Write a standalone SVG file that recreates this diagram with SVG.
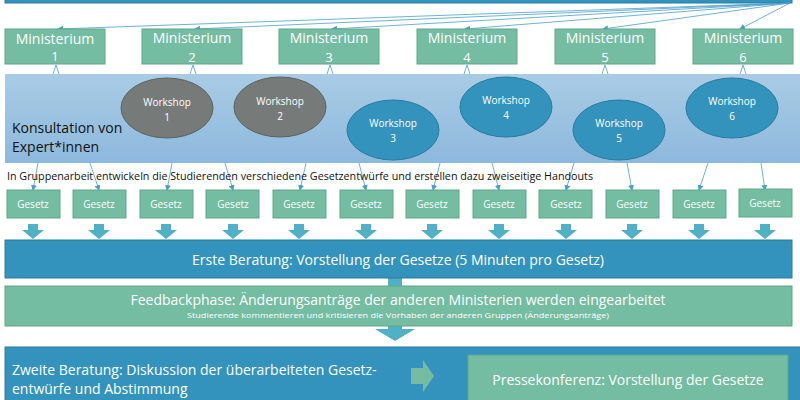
<svg xmlns="http://www.w3.org/2000/svg" width="800" height="400" viewBox="0 0 800 400">
<style>
text{font-family:"Open Sans","Liberation Sans",sans-serif}
.min{fill:#74bca2;stroke:#5ea78c;stroke-width:1}
.mt{fill:#fff;font-size:14px;text-anchor:middle}
.mn{fill:#fff;font-size:13px;text-anchor:middle}
.ws{fill:#fff;font-size:10px;text-anchor:middle}
.gr{fill:#767b79;stroke:#5d6160}
.bl{fill:#3393bd;stroke:#2a7a9e}
.ges{fill:#74bca2;stroke:#5ea78c}
.gt{fill:#fff;font-size:10px;text-anchor:middle}
.ln{stroke:#4a9fca;stroke-width:0.8;fill:none;marker-end:url(#a)}
.ba{fill:#4fb0c6}
</style>
<defs>
<marker id="a" markerWidth="6" markerHeight="6" refX="5" refY="3" orient="auto" markerUnits="userSpaceOnUse"><path d="M0,0L6,3L0,6z" fill="#4a9fca"/></marker>
<linearGradient id="g" x1="0" y1="0" x2="0" y2="1"><stop offset="0" stop-color="#a9cce5"/><stop offset="1" stop-color="#8db8dd"/></linearGradient>
</defs>
<rect id="top" x="5" y="-5" width="787" height="8" fill="#3393bd" stroke="#2a7a9e"/>
<rect id="band" x="5" y="74" width="795" height="89" fill="url(#g)"/>
<g id="connectors">
<path class="ln" d="M790,3L58,29"/><path class="ln" d="M790,3L195,29"/><path class="ln" d="M790,3L332,29"/>
<path class="ln" d="M790,3L465,29"/><path class="ln" d="M790,3L603,29"/><path class="ln" d="M790,3L740,29"/>
<g stroke="#4a9fca" stroke-width="0.8" fill="none">
<path d="M53,74L56,65L59,74"/><path d="M190,74L193,65L196,74"/><path d="M327,74L330,65L333,74"/>
<path d="M464,74L467,65L470,74"/><path d="M602,74L605,65L608,74"/><path d="M740,74L743,65L746,74"/>
</g>
<path class="ln" d="M38,163L33,190"/><path class="ln" d="M90,163L99,190"/><path class="ln" d="M172,163L167,190"/><path class="ln" d="M225,163L233,190"/>
<path class="ln" d="M306,163L300,190"/><path class="ln" d="M359,163L366,190"/><path class="ln" d="M440,163L433,190"/><path class="ln" d="M492,163L499,190"/>
<path class="ln" d="M574,163L566,190"/><path class="ln" d="M627,163L632,190"/><path class="ln" d="M708,163L699,190"/><path class="ln" d="M761,163L765,190"/>
</g>
<g id="m1"><rect class="min" x="5" y="29" width="100" height="35"/><text class="mt" x="55" y="44">Ministerium</text><text class="mn" x="55" y="61" font-size="10">1</text></g>
<g id="m2"><rect class="min" x="142" y="29" width="100" height="35"/><text class="mt" x="192" y="43">Ministerium</text><text class="mn" x="192" y="62">2</text></g>
<g id="m3"><rect class="min" x="279" y="29" width="100" height="35"/><text class="mt" x="329" y="43">Ministerium</text><text class="mn" x="329" y="62">3</text></g>
<g id="m4"><rect class="min" x="417" y="29" width="100" height="35"/><text class="mt" x="467" y="43">Ministerium</text><text class="mn" x="467" y="62">4</text></g>
<g id="m5"><rect class="min" x="555" y="29" width="100" height="35"/><text class="mt" x="605" y="43">Ministerium</text><text class="mn" x="605" y="62">5</text></g>
<g id="m6"><rect class="min" x="693" y="29" width="100" height="35"/><text class="mt" x="743" y="43">Ministerium</text><text class="mn" x="743" y="62">6</text></g>
<g id="w1"><ellipse class="gr" cx="167" cy="108" rx="46" ry="30"/><text class="ws" x="167" y="106">Workshop</text><text class="ws" x="167" y="121">1</text></g>
<g id="w2"><ellipse class="gr" cx="280" cy="107" rx="46" ry="30"/><text class="ws" x="280" y="105">Workshop</text><text class="ws" x="280" y="120">2</text></g>
<g id="w3"><ellipse class="bl" cx="393" cy="130" rx="46" ry="30"/><text class="ws" x="393" y="127">Workshop</text><text class="ws" x="393" y="142">3</text></g>
<g id="w4"><ellipse class="bl" cx="506" cy="107" rx="46" ry="30"/><text class="ws" x="506" y="104">Workshop</text><text class="ws" x="506" y="119">4</text></g>
<g id="w5"><ellipse class="bl" cx="619" cy="130" rx="46" ry="30"/><text class="ws" x="619" y="127">Workshop</text><text class="ws" x="619" y="142">5</text></g>
<g id="w6"><ellipse class="bl" cx="732" cy="108" rx="46" ry="30"/><text class="ws" x="732" y="105">Workshop</text><text class="ws" x="732" y="120">6</text></g>
<text x="12" y="133" font-size="14" fill="#111">Konsultation von</text>
<text x="12" y="152" font-size="14" fill="#111">Expert*innen</text>
<text x="7" y="180" font-size="10" fill="#111" textLength="586" lengthAdjust="spacingAndGlyphs">In Gruppenarbeit entwickeln die Studierenden verschiedene Gesetzentwürfe und erstellen dazu zweiseitige Handouts</text>
<g id="gesetze">
<g id="g1"><rect class="ges" x="7" y="190" width="53" height="28"/><text class="gt" x="33" y="208">Gesetz</text></g>
<g id="g2"><rect class="ges" x="73" y="190" width="53" height="28"/><text class="gt" x="99" y="208">Gesetz</text></g>
<g id="g3"><rect class="ges" x="140" y="190" width="53" height="28"/><text class="gt" x="166" y="208">Gesetz</text></g>
<g id="g4"><rect class="ges" x="206" y="190" width="53" height="28"/><text class="gt" x="233" y="208">Gesetz</text></g>
<g id="g5"><rect class="ges" x="273" y="190" width="53" height="28"/><text class="gt" x="299" y="208">Gesetz</text></g>
<g id="g6"><rect class="ges" x="340" y="190" width="53" height="28"/><text class="gt" x="366" y="208">Gesetz</text></g>
<g id="g7"><rect class="ges" x="406" y="190" width="53" height="28"/><text class="gt" x="432" y="208">Gesetz</text></g>
<g id="g8"><rect class="ges" x="473" y="190" width="53" height="28"/><text class="gt" x="499" y="208">Gesetz</text></g>
<g id="g9"><rect class="ges" x="539" y="190" width="53" height="28"/><text class="gt" x="566" y="208">Gesetz</text></g>
<g id="g10"><rect class="ges" x="606" y="190" width="53" height="28"/><text class="gt" x="632" y="208">Gesetz</text></g>
<g id="g11"><rect class="ges" x="673" y="190" width="53" height="28"/><text class="gt" x="699" y="208">Gesetz</text></g>
<g id="g12"><rect class="ges" x="739" y="189" width="53" height="28"/><text class="gt" x="765" y="207">Gesetz</text></g>
</g>
<g id="blockarrows" class="ba">
<path d="M28,224h10v6h6l-11,9l-11,-9h6z"/><path d="M94,224h10v6h6l-11,9l-11,-9h6z"/><path d="M161,224h10v6h6l-11,9l-11,-9h6z"/>
<path d="M228,224h10v6h6l-11,9l-11,-9h6z"/><path d="M294,224h10v6h6l-11,9l-11,-9h6z"/><path d="M361,224h10v6h6l-11,9l-11,-9h6z"/>
<path d="M427,224h10v6h6l-11,9l-11,-9h6z"/><path d="M494,224h10v6h6l-11,9l-11,-9h6z"/><path d="M561,224h10v6h6l-11,9l-11,-9h6z"/>
<path d="M627,224h10v6h6l-11,9l-11,-9h6z"/><path d="M694,224h10v6h6l-11,9l-11,-9h6z"/><path d="M760,224h10v6h6l-11,9l-11,-9h6z"/>
<path d="M388,278h14v8h-14z"/>
<path d="M388,326h14v3h13l-20,12l-20,-12h13z"/>
</g>
<g id="erste"><rect x="5" y="240" width="787" height="38" fill="#3393bd" stroke="#2a7a9e"/><text x="398" y="265" font-size="14" fill="#fff" text-anchor="middle">Erste Beratung: Vorstellung der Gesetze (5 Minuten pro Gesetz)</text></g>
<g id="feedback"><rect x="5" y="286" width="787" height="40" fill="#74bca2" stroke="#5ea78c"/><text x="398" y="305" font-size="14" fill="#fff" text-anchor="middle">Feedbackphase: Änderungsanträge der anderen Ministerien werden eingearbeitet</text><text x="398" y="318" font-size="8" fill="#fff" text-anchor="middle" textLength="422" lengthAdjust="spacingAndGlyphs">Studierende kommentieren und kritisieren die Vorhaben der anderen Gruppen (Änderungsanträge)</text></g>
<g id="zweite"><rect x="5" y="347" width="800" height="60" fill="#3393bd" stroke="#2a7a9e"/><text x="12" y="375" font-size="14" fill="#fff">Zweite Beratung: Diskussion der überarbeiteten Gesetz-</text><text x="12" y="394" font-size="14" fill="#fff">entwürfe und Abstimmung</text>
<path d="M411,368h12v-8l11,16l-11,16v-8h-12z" fill="#74bca2"/></g>
<g id="presse"><rect x="468" y="355" width="320" height="50" fill="#74bca2" stroke="#5ea78c"/><text x="628" y="385" font-size="14" fill="#fff" text-anchor="middle">Pressekonferenz: Vorstellung der Gesetze</text></g>
</svg>
